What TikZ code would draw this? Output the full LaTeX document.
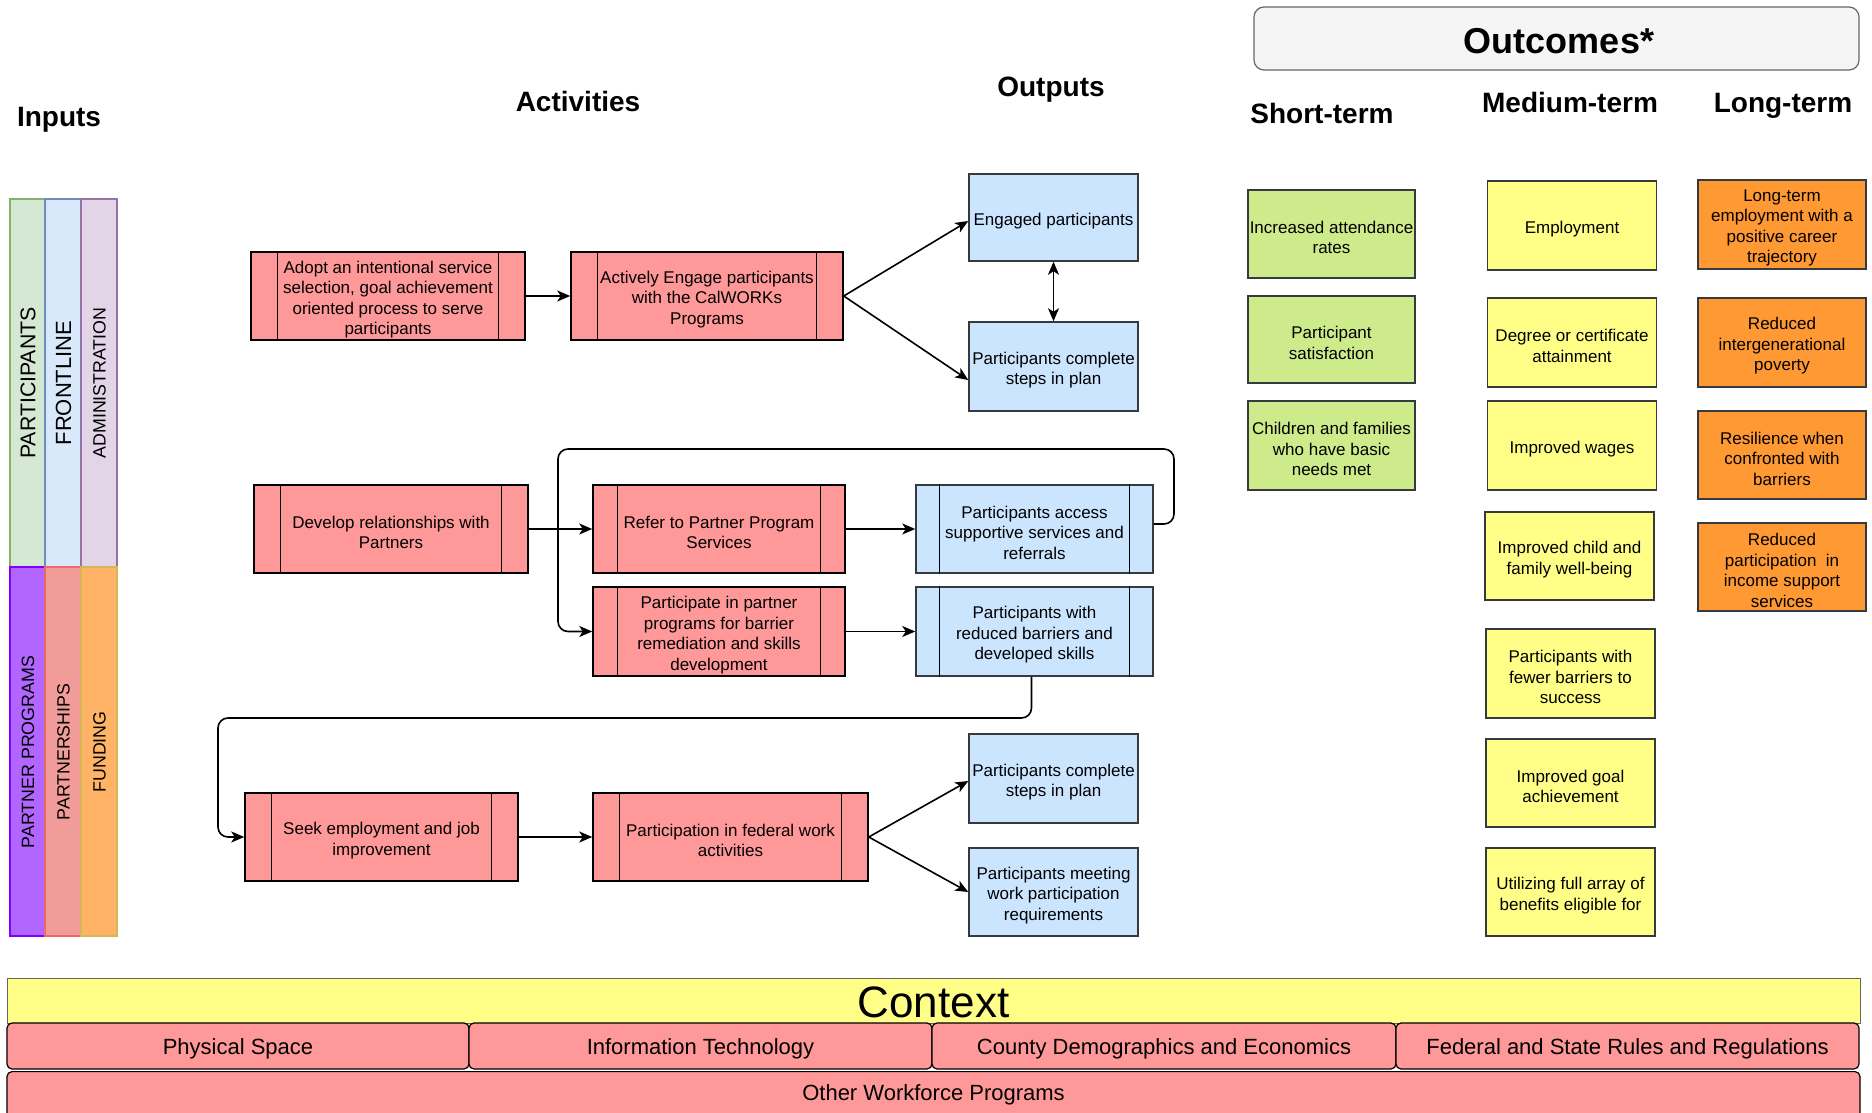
\documentclass[tikz,border=0pt]{standalone}
\usepackage{fontspec}
\setmainfont{Liberation Sans}
\usetikzlibrary{arrows.meta,calc}

\definecolor{pinkf}{HTML}{FF9999}
\definecolor{bluef}{HTML}{CCE5FF}
\definecolor{greenf}{HTML}{CDEB8B}
\definecolor{yellowf}{HTML}{FFFF88}
\definecolor{orangef}{HTML}{FF9933}
\definecolor{darkb}{HTML}{36393D}
\definecolor{grayf}{HTML}{F5F5F5}
\definecolor{grayb}{HTML}{666666}
\definecolor{partf}{HTML}{D5E8D4}\definecolor{partb}{HTML}{82B366}
\definecolor{frontf}{HTML}{DAE8FC}\definecolor{frontb}{HTML}{6C8EBF}
\definecolor{adminf}{HTML}{E1D5E7}\definecolor{adminb}{HTML}{9673A6}
\definecolor{ppf}{HTML}{B266FF}\definecolor{ppb}{HTML}{7F00FF}
\definecolor{pshipf}{HTML}{F19C99}\definecolor{pshipb}{HTML}{EA6B66}
\definecolor{fundf}{HTML}{FFB366}\definecolor{fundb}{HTML}{D6B656}

\newcommand\proclines[2]{%
  \draw[line width=1.2pt] ($(#1.north west)+(#2,0)$) -- ($(#1.south west)+(#2,0)$)
    ($(#1.north east)+(-#2,0)$) -- ($(#1.south east)+(-#2,0)$);}
% box: style, name, position, text
\newcommand\bx[4]{%
  \node[#1] (#2) at (#3) {};
  \node[btxt] (#2t) at ($(#2.center)+(0,3.5)$) {#4};}

\tikzset{
  box/.style={draw, line width=1.5pt, inner sep=0pt, minimum height=88pt},
  btxt/.style={align=center, inner sep=0pt, font=\fontsize{17}{20.5}\selectfont},
  actbox/.style={box, fill=pinkf, draw=black},
  outbox/.style={box, fill=bluef, draw=darkb, minimum width=169pt},
  shortbox/.style={box, fill=greenf, draw=darkb, minimum width=167pt},
  medbox/.style={box, fill=yellowf, draw=darkb, minimum width=169pt},
  longbox/.style={box, fill=orangef, draw=darkb, minimum width=168pt},
  heading/.style={font=\fontsize{28}{32}\selectfont\bfseries},
  vlabel/.style={rotate=90, inner sep=0pt},
  tip/.style={Stealth[length=13pt,width=11pt,inset=3.5pt]},
  conn/.style={line width=1.6pt, -{Stealth[length=13pt,width=11pt,inset=3.5pt]}},
  dconn/.style={line width=1.6pt, {Stealth[length=13pt,width=11pt,inset=3.5pt]}-{Stealth[length=13pt,width=11pt,inset=3.5pt]}},
  ctxbox/.style={draw=black, line width=1.2pt, fill=pinkf, rounded corners=5pt,
    inner sep=0pt, minimum height=46pt},
  ctxtxt/.style={font=\fontsize{22}{26}\selectfont, inner sep=0pt}
}

\begin{document}
\begin{tikzpicture}[x=1pt,y=-1pt]
\useasboundingbox (0,0) rectangle (1872,1113);
\clip (0,0) rectangle (1872,1113);

% headings
\node[heading] (hinputs) at (59,119.5) {Inputs};
\node[heading] (hact) at (578,101) {Activities};
\node[heading] (hout) at (1051,89.5) {Outputs};
\node[heading] (hshort) at (1322,113) {Short-term};
\node[heading] (hmed) at (1570,102) {Medium-term};
\node[heading] (hlong) at (1783,106) {Long-term};
\node[draw=grayb, fill=grayf, line width=1.2pt, rounded corners=10pt,
  minimum width=605pt, minimum height=63pt, inner sep=0pt] (outcomes) at (1556.5,38.5) {};
\node[font=\fontsize{36}{40}\selectfont\bfseries, inner sep=0pt] (outcomest) at (1559,41) {Outcomes*};

% input bars
\path[draw=partb, fill=partf, line width=1.5pt] (10,199) rectangle (45,567);
\path[draw=frontb, fill=frontf, line width=1.5pt] (45,199) rectangle (81,567);
\path[draw=adminb, fill=adminf, line width=1.5pt] (81,199) rectangle (117,567);
\path[draw=ppb, fill=ppf, line width=1.5pt] (10,567) rectangle (45,936);
\path[draw=pshipb, fill=pshipf, line width=1.5pt] (45,567) rectangle (81,936);
\path[draw=fundb, fill=fundf, line width=1.5pt] (81,567) rectangle (117,936);
\node[vlabel, font=\fontsize{21.3}{24}\selectfont] (participants) at (28,383) {PARTICIPANTS};
\node[vlabel, font=\fontsize{22}{24}\selectfont] (frontline) at (63.5,383) {FRONTLINE};
\node[vlabel, font=\fontsize{17.8}{20}\selectfont] (admin) at (99.5,383) {ADMINISTRATION};
\node[vlabel, font=\fontsize{17.8}{20}\selectfont] (pprog) at (28,752) {PARTNER PROGRAMS};
\node[vlabel, font=\fontsize{17.8}{20}\selectfont] (pships) at (63.5,752) {PARTNERSHIPS};
\node[vlabel, font=\fontsize{17.8}{20}\selectfont] (funding) at (99.5,752) {FUNDING};

% activities and outputs
\bx{actbox, minimum width=274pt}{a1}{388,296}{Adopt an intentional service\\selection, goal achievement\\oriented process to serve\\participants}
\proclines{a1}{27}
\bx{actbox, minimum width=272pt}{a2}{707,296}{Actively Engage participants\\with the CalWORKs\\Programs}
\proclines{a2}{27}
\bx{outbox, minimum height=87pt}{o1}{1053.5,217.5}{Engaged participants}
\bx{outbox, minimum height=89pt}{o2}{1053.5,366.5}{Participants complete\\steps in plan}

\bx{actbox, minimum width=274pt}{a3}{391,529}{Develop relationships with\\Partners}
\proclines{a3}{27}
\bx{actbox, minimum width=252pt}{a4}{719,529}{Refer to Partner Program\\Services}
\proclines{a4}{25}
\bx{outbox, minimum width=237pt}{o3}{1034.5,529}{Participants access\\supportive services and\\referrals}
\proclines{o3}{24}
\bx{actbox, minimum width=252pt, minimum height=89pt}{a5}{719,631.5}{Participate in partner\\programs for barrier\\remediation and skills\\development}
\proclines{a5}{25}
\bx{outbox, minimum width=237pt, minimum height=89pt}{o4}{1034.5,631.5}{Participants with\\reduced barriers and\\developed skills}
\proclines{o4}{24}

\bx{actbox, minimum width=273pt}{a6}{381.5,837}{Seek employment and job\\improvement}
\proclines{a6}{27}
\bx{actbox, minimum width=275pt}{a7}{730.5,837}{Participation in federal work\\activities}
\proclines{a7}{27}
\bx{outbox, minimum height=89pt}{o5}{1053.5,778.5}{Participants complete\\steps in plan}
\bx{outbox}{o6}{1053.5,892}{Participants meeting\\work participation\\requirements}

% connectors
\draw[conn] (a1.east) -- (a2.west);
\draw[conn] (a2.east) -- ($(o1.west)+(0,3.5)$);
\draw[conn] (a2.east) -- ($(o2.west)+(0,13.5)$);
\draw[dconn] (o1.south) -- (o2.north);
\draw[conn] (a3.east) -- (a4.west);
\draw[conn] (a4.east) -- (o3.west);
\draw[conn] (a5.east) -- (o4.west);
\draw[conn, rounded corners=10pt] ($(o3.east)+(0,-5)$) -- (1174,524) -- (1174,449) -- (558,449) |- (a5.west);
\draw[conn, rounded corners=10pt] ($(o4.south)+(-3,0)$) |- (218,718) |- (a6.west);
\draw[conn] (a6.east) -- (a7.west);
\draw[conn] (a7.east) -- ($(o5.west)+(0,2.5)$);
\draw[conn] (a7.east) -- (o6.west);

% outcomes
\bx{shortbox}{s1}{1331.5,234}{Increased attendance\\rates}
\bx{shortbox, minimum height=87pt}{s2}{1331.5,339.5}{Participant\\satisfaction}
\bx{shortbox, minimum height=89pt}{s3}{1331.5,445.5}{Children and families\\who have basic\\needs met}

\bx{medbox, minimum height=89pt}{m1}{1572,225.5}{Employment}
\bx{medbox, minimum height=89pt}{m2}{1572,342.5}{Degree or certificate\\attainment}
\bx{medbox, minimum height=89pt}{m3}{1572,445.5}{Improved wages}
\bx{medbox}{m4}{1569.5,556}{Improved child and\\family well-being}
\bx{medbox, minimum height=89pt}{m5}{1570.5,673.5}{Participants with\\fewer barriers to\\success}
\bx{medbox}{m6}{1570.5,783}{Improved goal\\achievement}
\bx{medbox}{m7}{1570.5,892}{Utilizing full array of\\benefits eligible for}

\bx{longbox, minimum height=89pt}{l1}{1782,224.5}{Long-term\\employment with a\\positive career\\trajectory}
\bx{longbox, minimum height=89pt}{l2}{1782,342.5}{Reduced\\intergenerational\\poverty}
\bx{longbox}{l3}{1782,455}{Resilience when\\confronted with\\barriers}
\bx{longbox}{l4}{1782,567}{Reduced\\participation\ \ in\\income support\\services}

% context
\node[draw=grayb, fill=yellowf, line width=1pt, minimum width=1853pt, minimum height=45pt,
  inner sep=0pt] (context) at (933.5,1000.5) {};
\node[font=\fontsize{44}{48}\selectfont, inner sep=0pt] (contextt) at (933.5,1002.5) {Context};
\node[ctxbox, minimum width=462pt] (c1) at (238,1046) {};
\node[ctxtxt] (c1t) at (238,1048.5) {Physical Space};
\node[ctxbox, minimum width=463pt] (c2) at (700.5,1046) {};
\node[ctxtxt] (c2t) at (700.5,1048.5) {Information Technology};
\node[ctxbox, minimum width=464pt] (c3) at (1164,1046) {};
\node[ctxtxt] (c3t) at (1164,1048.5) {County Demographics and Economics};
\node[ctxbox, minimum width=463pt] (c4) at (1627.5,1046) {};
\node[ctxtxt] (c4t) at (1627.5,1048.5) {Federal and State Rules and Regulations};
\node[ctxbox, minimum width=1853pt, minimum height=60pt, anchor=north] (c5) at (933.5,1071) {};
\node[ctxtxt] (c5t) at (933.5,1094.5) {Other Workforce Programs};
\end{tikzpicture}
\end{document}
